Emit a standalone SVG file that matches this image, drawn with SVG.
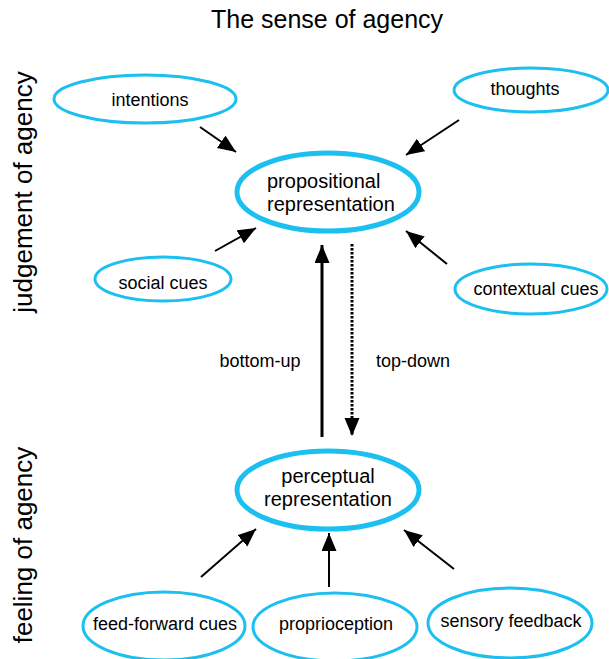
<svg xmlns="http://www.w3.org/2000/svg" width="609" height="659" viewBox="0 0 609 659">
<style>
text { font-family: "Liberation Sans", Arial, sans-serif; fill: #000; }
.t { font-size: 18px; text-anchor: middle; }
.big { font-size: 20px; }
.node { fill: #fff; stroke: #1BBFF0; stroke-width: 3; }
.main { fill: #fff; stroke: #1BBFF0; stroke-width: 5; }
.arr { stroke: #000; stroke-width: 2; fill: none; marker-end: url(#ah); }
</style>
<defs>
<marker id="ah" markerUnits="userSpaceOnUse" markerWidth="20" markerHeight="16" refX="18" refY="7.5" orient="auto">
<path d="M0,0 L18,7.5 L0,15 z" fill="#000"/>
</marker>
</defs>
<rect width="609" height="659" fill="#fff"/>
<text x="327" y="28" style="font-size:25px;text-anchor:middle">The sense of agency</text>
<text transform="translate(32,192) rotate(-90)" style="font-size:26px;text-anchor:middle">judgement of agency</text>
<text transform="translate(32,545) rotate(-90)" style="font-size:26px;text-anchor:middle">feeling of agency</text>

<g id="connectors">
<line class="arr" x1="200" y1="127" x2="236" y2="152"/>
<line class="arr" x1="459" y1="120" x2="406" y2="155"/>
<line class="arr" x1="215" y1="251" x2="256" y2="228"/>
<line class="arr" x1="447" y1="264" x2="406" y2="231"/>
<line class="arr" style="stroke-width:3" x1="322" y1="437" x2="322" y2="245"/>
<line class="arr" style="stroke-width:3;stroke-dasharray:2.5,1.5" x1="352" y1="244" x2="352" y2="436"/>
<line class="arr" x1="201" y1="577" x2="256" y2="529"/>
<line class="arr" x1="329" y1="587" x2="329" y2="533"/>
<line class="arr" x1="454" y1="569" x2="404" y2="530"/>
<text class="t" x="260" y="367">bottom-up</text>
<text class="t" x="413" y="367">top-down</text>
</g>

<g id="intentions">
<ellipse class="node" cx="145" cy="99" rx="91" ry="24"/>
<text class="t" x="150" y="106">intentions</text>
</g>
<g id="thoughts">
<ellipse class="node" cx="531" cy="90" rx="77" ry="22"/>
<text class="t" x="525" y="95">thoughts</text>
</g>
<g id="propositional">
<ellipse class="main" cx="328" cy="192" rx="91" ry="39"/>
<text class="big" x="267" y="188">propositional</text>
<text class="big" x="267" y="211">representation</text>
</g>
<g id="social">
<ellipse class="node" cx="163" cy="279" rx="68" ry="22"/>
<text class="t" x="163" y="289">social cues</text>
</g>
<g id="contextual">
<ellipse class="node" cx="531" cy="289" rx="76" ry="25"/>
<text class="t" x="536" y="295">contextual cues</text>
</g>
<g id="perceptual">
<ellipse class="main" cx="328" cy="490" rx="91" ry="39"/>
<text class="big" x="328" y="483" style="text-anchor:middle">perceptual</text>
<text class="big" x="328" y="506" style="text-anchor:middle">representation</text>
</g>
<g id="feedforward">
<ellipse class="node" cx="164" cy="626" rx="81" ry="34"/>
<text class="t" x="165" y="630">feed-forward cues</text>
</g>
<g id="proprioception">
<ellipse class="node" cx="335" cy="627" rx="82" ry="34"/>
<text class="t" x="336" y="630">proprioception</text>
</g>
<g id="sensory">
<ellipse class="node" cx="510" cy="623" rx="82" ry="35"/>
<text class="t" x="511" y="627">sensory feedback</text>
</g>
</svg>
